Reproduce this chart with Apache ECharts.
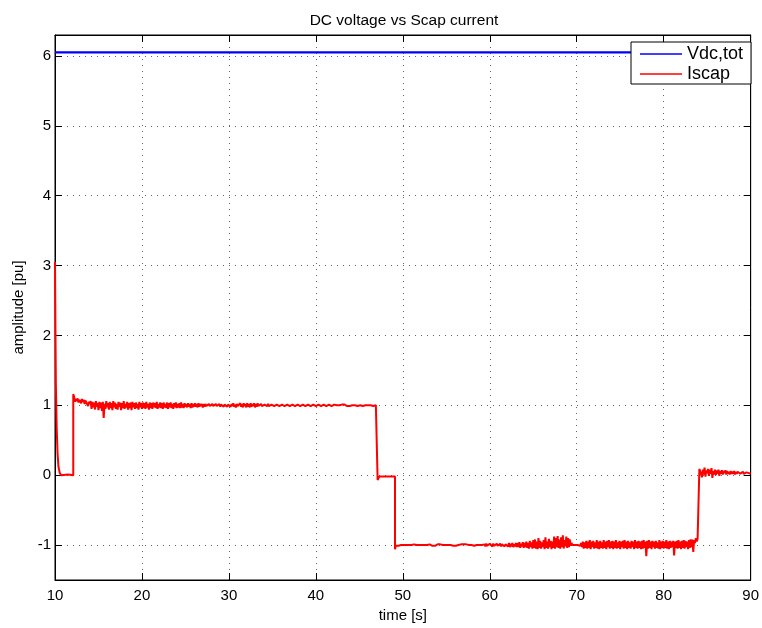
<!DOCTYPE html>
<html>
<head>
<meta charset="utf-8">
<script src="https://cdn.jsdelivr.net/npm/echarts@6/dist/echarts.min.js"></script>
<style>
  html, body { margin: 0; padding: 0; background: #fff; }
  #chart { width: 762px; height: 628px; }
</style>
</head>
<body>
<div id="chart"></div>
<script>
// Axis ticks
const xTicks = [10, 20, 30, 40, 50, 60, 70, 80, 90];
const yTicks = [-1, 0, 1, 2, 3, 4, 5, 6];

// Total DC-link voltage [pu]
const vdcTime = [10, 20, 30, 40, 50, 60, 70, 80, 90];
const vdcValues = [6.05, 6.05, 6.05, 6.05, 6.05, 6.05, 6.05, 6.05, 6.05];

// Supercap current [pu]: start-up transient
const iscapStartTime = [10, 10.05, 10.1, 10.2, 10.3, 10.4, 10.55, 10.7, 11.5, 12.1, 12.1];
const iscapStartValues = [3.05, 2.1, 1.3, 0.65, 0.3, 0.12, 0.03, 0.0, 0.01, 0.0, 1.16];

// Sampling of the logged current (s)
const iscapSampleStep = 0.1;

// Charging plateau, samples from 12.2 s
const iscapPosStart = 12.2;
const iscapPos = [
  1.12, 1.05, 1.09, 1.06, 1.10, 1.04, 1.08, 1.07, 1.03, 1.09,
  1.05, 1.08, 1.02, 1.07, 1.04, 1.06, 0.99, 1.05, 1.02, 1.06,
  0.95, 1.05, 0.97, 1.04, 0.94, 1.06, 0.98, 1.03, 0.93, 1.05,
  0.96, 1.04, 0.92, 1.05, 0.82, 1.02, 0.95, 1.06, 0.97, 1.03,
  0.94, 1.05, 0.96, 1.03, 0.93, 1.06, 0.97, 1.04, 0.95, 1.02,
  0.94, 1.05, 0.98, 1.04, 0.93, 1.03, 0.96, 1.06, 0.95, 1.02,
  0.97, 1.05, 0.94, 1.03, 0.96, 1.04, 0.93, 1.05, 0.97, 1.03,
  0.95, 1.04, 0.96, 1.02, 0.94, 1.05, 0.97, 1.03, 0.95, 1.04,
  0.96, 1.03, 0.95, 1.05, 0.97, 1.02, 0.94, 1.04, 0.96, 1.03,
  0.95, 1.04, 0.97, 1.03, 0.96, 1.05, 0.95, 1.02, 0.97, 1.04,
  0.96, 1.03, 0.95, 1.04, 0.97, 1.02, 0.96, 1.04, 0.95, 1.03,
  0.97, 1.04, 0.96, 1.02, 0.95, 1.03, 0.97, 1.04, 0.96, 1.02,
  0.97, 1.03, 0.96, 1.04, 0.97, 1.02, 0.96, 1.03, 0.98, 1.02,
  0.97, 1.03, 0.98, 1.02, 0.96, 1.03, 0.97, 1.02, 0.98, 1.03,
  0.98, 1.02, 0.97, 1.03, 0.98, 1.02, 0.99, 1.02, 0.97, 1.02,
  0.98, 1.02, 0.99, 1.01, 0.98, 1.02, 0.99, 1.01, 0.98, 1.02,
  0.99, 1.01, 0.98, 1.02, 0.99, 1.01, 0.99, 1.02, 0.98, 1.01,
  0.99, 1.02, 0.98, 1.01, 0.99, 1.02, 0.98, 1.01, 0.99, 1.01,
  0.98, 1.02, 0.99, 1.03, 0.98, 1.01, 0.97, 1.02, 0.99, 1.01,
  0.97, 1.03, 0.98, 1.02, 0.97, 1.03, 0.99, 1.02, 0.97, 1.03,
  0.98, 1.02, 0.97, 1.03, 0.98, 1.02, 0.99, 1.03, 0.97, 1.02,
  0.98, 1.03, 0.99, 1.01, 0.98, 1.02, 0.99, 1.01, 0.98, 1.01,
  0.99, 1.01, 0.99, 1.02, 0.99, 1.01, 0.98, 1.01, 0.99, 1.01,
  0.99, 1.01, 1.00, 1.01, 0.99, 1.02, 0.99, 1.01, 0.99, 1.01,
  0.99, 1.01, 0.99, 1.01, 1.00, 1.01, 0.99, 1.01, 0.99, 1.01,
  0.99, 1.01, 0.99, 1.02, 0.99, 1.01, 1.00, 1.01, 0.99, 1.01,
  0.99, 1.01, 1.00, 1.01, 0.99, 1.01, 0.99, 1.01, 1.00, 1.01,
  0.99, 1.01, 0.99, 1.01, 1.00, 1.01, 0.99, 1.01, 0.99, 1.01,
  1.00, 1.01, 0.99, 1.01, 0.99, 1.01, 1.00, 1.01, 0.99, 1.01,
  0.99, 1.01, 1.00, 1.01, 0.99, 1.01, 0.99, 1.01, 1.00, 1.01,
  0.99, 1.01, 1.00, 1.01, 0.99, 1.00, 1.01, 0.99, 1.01, 1.00,
  0.99, 1.01, 1.00, 1.01, 0.99, 1.01, 1.00, 0.99, 1.01, 1.00,
  1.00, 1.01, 0.99, 1.00, 1.01, 1.00, 0.99, 1.01, 1.00, 1.00,
  1.01, 1.00, 0.99, 1.01, 1.00, 1.00, 1.01, 0.99, 1.00, 1.01,
  1.00, 1.00, 1.01, 1.00, 0.99, 1.00, 1.01, 1.00, 1.00
];

// Step down through zero
const iscapDownTime = [47.1, 47.1, 47.3, 48.0, 48.6, 49.1, 49.1];
const iscapDownValues = [1.0, -0.07, -0.02, -0.02, -0.02, -0.02, -1.06];

// Discharging plateau, samples from 49.2 s
const iscapNegStart = 49.2;
const iscapNeg = [
  -1.01, -1.00, -1.00, -1.01, -1.00, -0.99, -1.00, -1.01, -1.00, -1.00,
  -1.00, -1.01, -1.00, -1.00, -0.99, -1.00, -1.01, -1.00, -1.00, -1.00,
  -1.00, -0.99, -1.00, -1.01, -1.00, -1.00, -0.99, -1.00, -1.01, -1.00,
  -1.00, -1.00, -1.01, -1.00, -0.99, -1.00, -1.00, -1.01, -1.00, -0.99,
  -1.00, -0.99, -1.01, -1.00, -0.99, -1.01, -1.00, -1.00, -0.99, -1.01,
  -1.00, -0.99, -1.01, -1.00, -1.00, -0.99, -1.01, -1.00, -0.99, -1.00,
  -1.00, -0.99, -1.01, -1.00, -0.99, -1.00, -1.01, -0.99, -1.00, -1.01,
  -1.00, -0.99, -1.00, -1.01, -1.00, -0.99, -1.01, -1.00, -0.99, -1.00,
  -1.00, -0.99, -1.01, -1.00, -1.00, -0.99, -1.01, -1.00, -0.99, -1.00,
  -1.01, -1.00, -0.99, -1.00, -1.01, -0.99, -1.00, -1.01, -0.99, -1.00,
  -0.98, -1.01, -0.99, -1.02, -0.98, -1.01, -0.99, -1.02, -0.98, -1.00,
  -0.99, -1.02, -0.98, -1.01, -0.99, -1.02, -0.98, -1.01, -0.99, -1.01,
  -0.98, -1.02, -0.99, -1.01, -0.98, -1.02, -0.99, -1.01, -0.98, -1.02,
  -0.97, -1.03, -0.98, -1.02, -0.97, -1.03, -0.99, -1.02, -0.97, -1.03,
  -0.97, -1.03, -0.96, -1.04, -0.98, -1.02, -0.96, -1.04, -0.97, -1.03,
  -0.95, -1.04, -0.97, -1.05, -0.94, -1.03, -0.96, -1.05, -0.93, -1.04,
  -0.92, -1.05, -0.95, -1.06, -0.90, -1.04, -0.94, -1.05, -0.96, -1.03,
  -0.93, -1.06, -0.89, -1.04, -0.95, -1.05, -0.91, -1.03, -0.94, -1.06,
  -0.95, -1.04, -0.88, -1.05, -0.90, -1.03, -0.87, -1.04, -0.92, -1.05,
  -0.89, -1.03, -0.86, -1.05, -0.93, -1.02, -0.88, -1.04, -0.90, -1.03,
  -0.92, -1.01, -0.97, -1.00, -0.99, -1.00, -1.00, -0.99, -1.00, -1.00,
  -0.99, -1.00, -1.01, -0.97, -1.03, -0.95, -1.05, -0.96, -1.04, -0.94,
  -1.05, -0.95, -1.04, -0.93, -1.06, -0.95, -1.03, -0.94, -1.05, -0.96,
  -1.04, -0.93, -1.05, -0.95, -1.06, -0.94, -1.04, -0.96, -1.05, -0.93,
  -1.04, -0.95, -1.06, -0.94, -1.03, -0.93, -1.05, -0.95, -1.04, -0.94,
  -1.06, -0.95, -1.04, -0.93, -1.05, -0.96, -1.04, -0.94, -1.06, -0.95,
  -1.03, -0.94, -1.05, -0.93, -1.04, -0.95, -1.06, -0.94, -1.04, -0.96,
  -1.05, -0.94, -1.03, -0.95, -1.06, -0.93, -1.04, -0.95, -1.05, -0.94,
  -1.04, -0.95, -1.06, -0.94, -1.05, -0.93, -1.04, -0.95, -1.16, -0.94,
  -1.05, -0.93, -1.04, -0.95, -1.06, -0.94, -1.03, -0.95, -1.05, -0.94,
  -1.04, -0.96, -1.05, -0.93, -1.06, -0.95, -1.04, -0.94, -1.05, -0.95,
  -1.04, -0.93, -1.05, -0.95, -1.06, -0.94, -1.04, -0.95, -1.03, -0.94,
  -1.15, -0.95, -1.04, -0.94, -1.05, -0.93, -1.04, -0.95, -1.06, -0.94,
  -1.04, -0.93, -1.05, -0.94, -1.03, -0.95, -1.06, -0.93, -1.04, -0.92,
  -1.03, -0.92, -1.10, -0.93, -0.97, -0.90, -0.95, -0.91, -0.93
];

// Step up back to zero
const iscapUpTime = [84.1, 84.1];
const iscapUpValues = [-0.93, 0.09];

// Final settling, samples from 84.2 s
const iscapTailStart = 84.2;
const iscapTail = [
  0.10, 0.02, -0.03, 0.08, 0.01, 0.11, -0.02, 0.07, 0.03, 0.09,
  -0.01, 0.08, 0.02, 0.10, -0.04, 0.06, 0.01, 0.08, 0.00, 0.07,
  0.02, 0.08, -0.01, 0.06, 0.02, 0.07, 0.01, 0.06, 0.03, 0.07,
  0.01, 0.06, 0.02, 0.05, 0.01, 0.06, 0.02, 0.05, 0.02, 0.06,
  0.01, 0.05, 0.02, 0.05, 0.03, 0.05, 0.02, 0.04, 0.02, 0.05,
  0.02, 0.04, 0.03, 0.04, 0.02, 0.04, 0.03, 0.04, 0.02
];

const FONT = '"Liberation Sans", Arial, Helvetica, sans-serif';

function pairs(times, values) {
  return times.map((t, i) => [t, values[i]]);
}
function sampled(start, values) {
  return values.map((v, i) => [Number((start + i * iscapSampleStep).toFixed(2)), v]);
}

const vdcData = pairs(vdcTime, vdcValues);
const iscapData = [].concat(
  pairs(iscapStartTime, iscapStartValues),
  sampled(iscapPosStart, iscapPos),
  pairs(iscapDownTime, iscapDownValues),
  sampled(iscapNegStart, iscapNeg),
  pairs(iscapUpTime, iscapUpValues),
  sampled(iscapTailStart, iscapTail)
);

const gridDots = { show: true, lineStyle: { color: '#666', width: 1, type: [1, 5] } };
const tickStyle = { show: true, inside: true, length: 7, lineStyle: { color: '#000', width: 1 } };
const axisLineBlack = { show: true, onZero: false, lineStyle: { color: '#000', width: 1 } };

const chart = echarts.init(document.getElementById('chart'), null, { renderer: 'canvas' });
chart.setOption({
  animation: false,
  backgroundColor: '#fff',
  textStyle: { fontFamily: FONT },
  title: {
    text: 'DC voltage vs Scap current',
    left: 399,
    top: 8,
    textAlign: 'center',
    textStyle: { fontSize: 15.5, fontWeight: 'normal', color: '#000', fontFamily: FONT }
  },
  grid: {
    left: 55, right: 10, top: 35, bottom: 45,
    show: true, borderColor: '#000', borderWidth: 1, backgroundColor: '#fff'
  },
  legend: {
    orient: 'vertical',
    left: 631,
    top: 42,
    backgroundColor: '#fff',
    borderColor: '#000',
    borderWidth: 1,
    borderRadius: 0,
    padding: [3, 8, 1, 9],
    itemWidth: 42,
    itemHeight: 1.5,
    itemGap: 2,
    icon: 'rect',
    textStyle: { fontSize: 18, color: '#000', fontFamily: FONT, lineHeight: 16 },
    data: ['Vdc,tot', 'Iscap']
  },
  xAxis: [
    {
      type: 'value', min: 10, max: 90, interval: 10, position: 'bottom',
      name: 'time [s]', nameLocation: 'middle', nameGap: 28,
      nameTextStyle: { fontSize: 15, color: '#000', fontFamily: FONT },
      axisLine: axisLineBlack, axisTick: tickStyle,
      axisLabel: { margin: 8, fontSize: 15, color: '#000', fontFamily: FONT,
        customValues: xTicks },
      splitLine: gridDots
    },
    {
      type: 'value', min: 10, max: 90, interval: 10, position: 'top',
      axisLine: axisLineBlack, axisTick: tickStyle,
      axisLabel: { show: false }, splitLine: { show: false }
    }
  ],
  yAxis: [
    {
      type: 'value', min: -1.5, max: 6.3, position: 'left',
      name: 'amplitude [pu]', nameLocation: 'middle', nameGap: 26,
      nameTextStyle: { fontSize: 15, color: '#000', fontFamily: FONT },
      axisLine: axisLineBlack,
      axisTick: Object.assign({}, tickStyle, { customValues: yTicks }),
      axisLabel: { margin: 4, fontSize: 15, color: '#000', fontFamily: FONT, customValues: yTicks },
      splitLine: gridDots
    },
    {
      type: 'value', min: -1.5, max: 6.3, position: 'right',
      axisLine: axisLineBlack,
      axisTick: Object.assign({}, tickStyle, { customValues: yTicks }),
      axisLabel: { show: false, customValues: yTicks }, splitLine: { show: false }
    }
  ],
  series: [
    {
      name: 'Vdc,tot', type: 'line', xAxisIndex: 0, yAxisIndex: 0,
      data: vdcData, showSymbol: false, symbol: 'none',
      color: '#0000ff', lineStyle: { color: '#0000ff', width: 2.2 }, z: 3
    },
    {
      name: 'Iscap', type: 'line', xAxisIndex: 0, yAxisIndex: 0,
      data: iscapData, showSymbol: false, symbol: 'none',
      color: '#ff0000', lineStyle: { color: '#ff0000', width: 2 }, z: 4
    }
  ]
});
</script>
</body>
</html>
